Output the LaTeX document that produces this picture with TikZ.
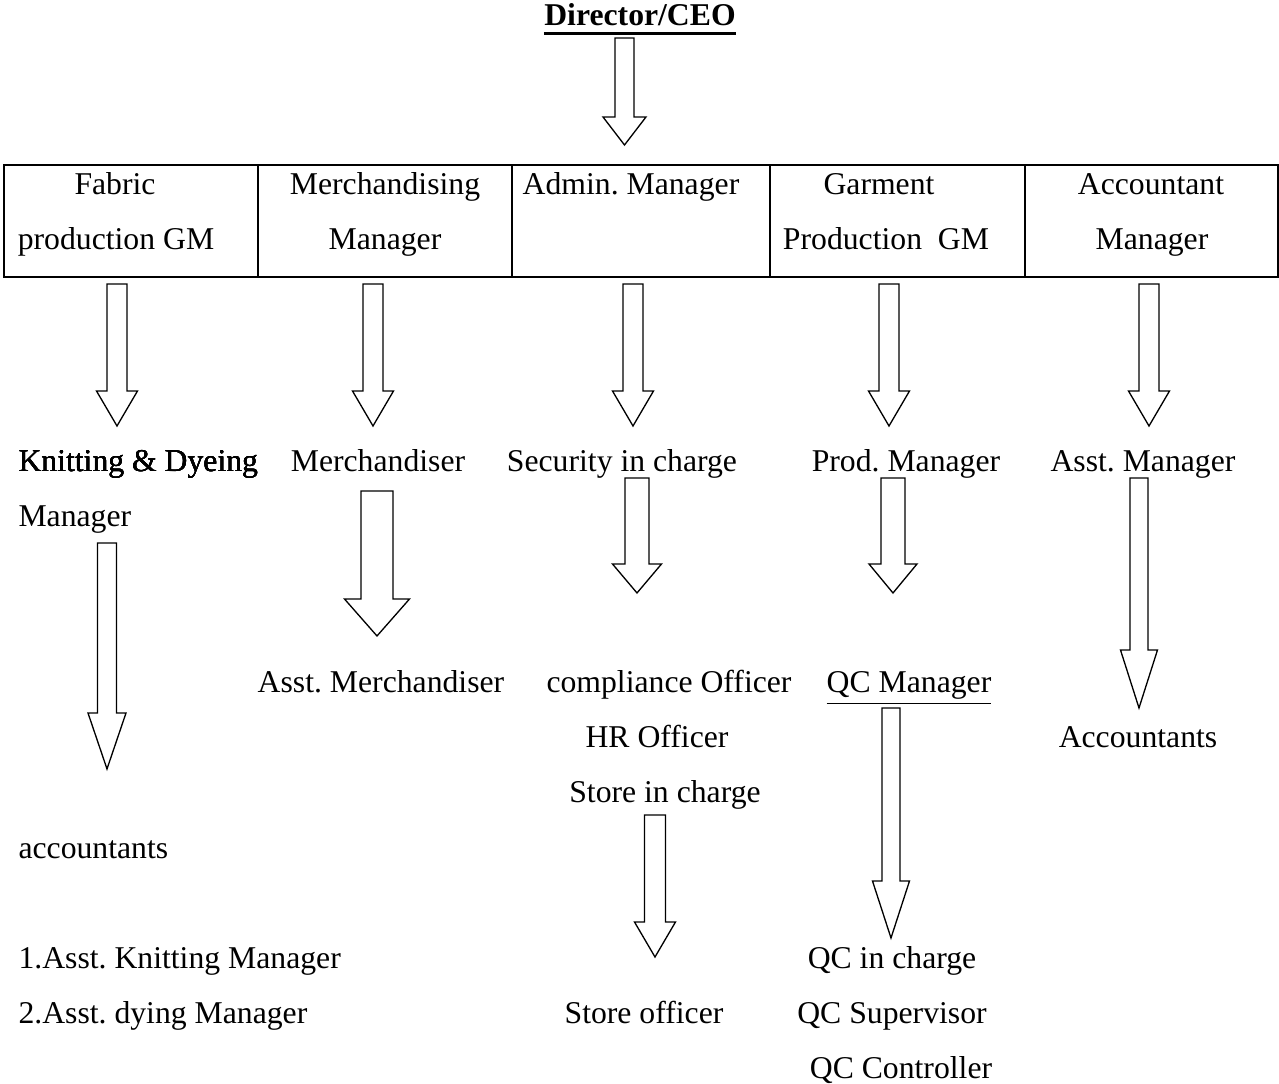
\documentclass[tikz,border=0pt]{standalone}
\usepackage{fontspec}
\setmainfont{Liberation Serif}
\usepackage{tikz}
\usetikzlibrary{calc}
\frenchspacing

\tikzset{
	lbl/.style={inner sep=0pt, anchor=base, font=\fontsize{12}{14}\selectfont},
	lblleft/.style={lbl, anchor=base west},
	hollow/.style={draw, line width=0.5pt, line join=miter},
	gridline/.style={line width=0.8pt}
}
% down block arrow: centre x, top, head start, tip, half shaft, half head
\newcommand{\hollowarrow}[6]{%
	\draw[hollow] (#1-#5,#2) -- (#1+#5,#2) -- (#1+#5,#3) -- (#1+#6,#3)
	-- (#1,#4) -- (#1-#6,#3) -- (#1-#5,#3) -- cycle;}

\begin{document}
\begin{tikzpicture}[x=0.3785pt, y=-0.3785pt]
		\useasboundingbox (0,0) rectangle (1279,1084);
		% head of the chart
		\node[lbl, font=\fontsize{12}{14}\selectfont\bfseries] (ceo) at (640,26) {Director/CEO};
		\draw[line width=1.1pt] ([yshift=-2.8pt]ceo.base west) -- ([yshift=-2.8pt]ceo.base east);
		\hollowarrow{624.5}{38}{117}{145}{9.5}{21.5}
		% table of managers
		\draw[gridline] (4,165) rectangle (1278,277);
		\foreach \xd in {258,512,770,1025}
			\draw[gridline] (\xd,165) -- (\xd,277);
		\node[lbl] (fab1) at (115,195) {Fabric};
		\node[lbl] (fab2) at (116,250) {production GM};
		\node[lbl] (mer1) at (385,195) {Merchandising};
		\node[lbl] (mer2) at (385,250) {Manager};
		\node[lbl] (adm) at (631,195) {Admin. Manager};
		\node[lbl] (gar1) at (879,195) {Garment};
		\node[lbl] (gar2) at (886,250) {Production\ \ GM};
		\node[lbl] (acc1) at (1151,195) {Accountant};
		\node[lbl] (acc2) at (1152,250) {Manager};
		\foreach \cx in {117,373,633,889,1149}
			\hollowarrow{\cx}{284}{391}{426}{10}{20.5}
		% second level
		\node[lblleft] (knit) at (18,472) {Knitting \symbol{"26} Dyeing};
		\node[lblleft] (knit2) at (18,527) {Manager};
		\node[lbl] (merch) at (378,472) {Merchandiser};
		\node[lbl] (secu) at (622,472) {Security in charge};
		\node[lbl] (prod) at (906,472) {Prod. Manager};
		\node[lbl] (asst) at (1143,472) {Asst. Manager};
		\hollowarrow{107}{543}{713}{769}{9.5}{19}
		\hollowarrow{377}{491}{599}{636}{16}{32.5}
		\hollowarrow{637}{478}{564}{593}{12}{24.5}
		\hollowarrow{893}{478}{564}{593}{12}{24}
		\hollowarrow{1139}{478}{650}{708}{9}{18.5}
		% third level
		\node[lbl] (amerch) at (381,693) {Asst. Merchandiser};
		\node[lbl] (compl) at (669,693) {compliance Officer};
		\node[lbl] (qcm) at (909,693) {\underline{QC Manager}};
		\node[lbl] (hr) at (657,748) {HR Officer};
		\node[lbl] (accts) at (1138,748) {Accountants};
		\node[lbl] (store) at (665,803) {Store in charge};
		\node[lblleft] (acc) at (18,859) {accountants};
		\hollowarrow{655}{815}{922}{957}{10.5}{20.5}
		\hollowarrow{891}{708}{881}{938}{9}{18.5}
		% bottom rows
		\node[lblleft] (aknit) at (18,969) {1.Asst. Knitting Manager};
		\node[lblleft] (adye) at (18,1024) {2.Asst. dying Manager};
		\node[lbl] (sto) at (644,1024) {Store officer};
		\node[lbl] (qcic) at (892,969) {QC in charge};
		\node[lbl] (qcs) at (892,1024) {QC Supervisor};
		\node[lbl] (qcc) at (901,1079) {QC Controller};
	\end{tikzpicture}
\end{document}
